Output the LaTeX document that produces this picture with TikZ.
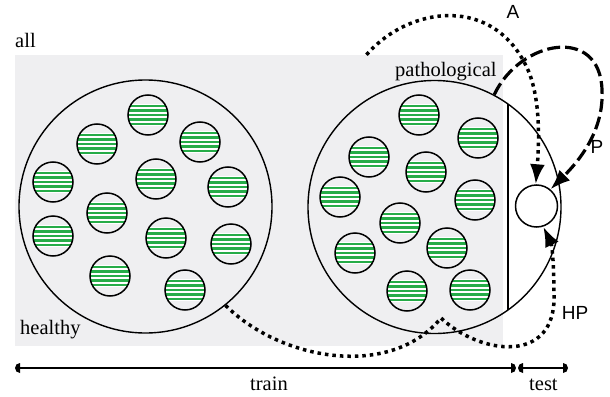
\documentclass[tikz,border=0pt]{standalone}
\usepackage{fontspec}
\setmainfont{Liberation Serif}
\newfontfamily\labfont{Liberation Sans}
\usetikzlibrary{arrows.meta,calc}
\definecolor{allgray}{RGB}{239,239,241}
\definecolor{stripegreen}{RGB}{38,172,72}
% half disk end for the split axis
\pgfdeclarearrow{
  name=HalfDisk,
  parameters={\the\pgfarrowlength,\the\pgfarrowwidth},
  setup code={
    \pgfarrowssettipend{\pgfarrowlength}
    \pgfarrowssetlineend{0pt}
    \pgfarrowssetbackend{0pt}
    \pgfarrowssetvisualbackend{0pt}
    \pgfarrowshullpoint{\pgfarrowlength}{0pt}
    \pgfarrowsupperhullpoint{0pt}{.5\pgfarrowwidth}
  },
  drawing code={
    \pgfpathmoveto{\pgfqpoint{0pt}{-.5\pgfarrowwidth}}
    \pgfpatharc{-90}{90}{\pgfarrowlength and .5\pgfarrowwidth}
    \pgfpathclose
    \pgfusepathqfill
  },
  defaults={length=5pt,width=10pt}
}
\begin{document}
\begin{tikzpicture}[x=1pt,y=-1pt,>=Latex,
  every node/.style={inner sep=0pt},
  settext/.style={anchor=base west,font=\fontsize{20.5}{24}\selectfont},
  lab/.style={font=\labfont\fontsize{19}{22}\selectfont},
  set/.style={draw,circle,line width=1.4pt,minimum size=253pt},
  sample/.style={draw,circle,line width=1.5pt,minimum size=40pt,
    path picture={\fill[white] ($(path picture bounding box.center)+(-22,-11)$) rectangle ($(path picture bounding box.center)+(22,11)$);
      \foreach \off in {-9,-4.5,0,4.5,9} \draw[stripegreen,line width=2.5pt] ($(path picture bounding box.center)+(-22,\off)$) -- ++(44,0);}},
  dotline/.style={line width=3.5pt,dash pattern=on 3.5pt off 4pt},
  dashline/.style={line width=3.2pt,dash pattern=on 13pt off 5pt},
  tip/.style={-{Latex[length=20pt,width=15pt]}},
  axis/.style={line width=2pt,{HalfDisk}-{HalfDisk}}]
\useasboundingbox (0,0) rectangle (610,396);
\node[fill=allgray,minimum width=488pt,minimum height=291pt] (all) at (259,200.5) {};
\node[settext] (alltext) at (15,48) {all};
\node[settext] (healthytext) at (20,334) {healthy};
\node[settext] (pathtext) at (395,76) {pathological};
% healthy and pathological sets
\node[set] (hset) at (145.5,206.5) {};
\node[set] (pset) at (434.5,207) {};
\draw[line width=2pt] (508,104) -- (508,310);
\foreach \px/\py [count=\i] in {148/115,97/144,200/142,53/182,156/179,228/187,107/213,53/236,166/238,231/244,110/276,185/290}
  \node[sample] (h\i) at (\px,\py) {};
\foreach \px/\py [count=\i] in {419/115,478/138,369/157,426/172,340/197,475/200,400/223,355/253,447/248,407/291,470/290}
  \node[sample] (p\i) at (\px,\py) {};
\node[draw,circle,line width=1.5pt,minimum size=42pt,fill=white] (tset) at (536.5,206) {};
% sampling paths
\coordinate (hpjoin) at (441,318);
\draw[dotline,tip] ($(all.north west)!0.72!(all.north east)$) .. controls (410,5) and (495,-5) .. (528,70) .. controls (541,100) and (539,145) .. (tset.92);
\draw[dashline,tip] (pset.62) .. controls (520,40) and (600,25) .. (602,90) .. controls (604,130) and (580,160) .. (tset.50);
\draw[dotline,tip] (hset.-51) .. controls (280,360) and (390,380) .. (hpjoin) .. controls (480,355) and (556,365) .. (554,295) .. controls (554,265) and (552,245) .. (tset.-72);
\node[lab] (alab) at (513,12) {A};
\node[lab] (plab) at (597,147) {P};
\node[lab] (hplab) at (575,313) {HP};
% train / test split
\coordinate (trainL) at (15,368);
\coordinate (trainR) at (516,368);
\coordinate (testL) at (518,368);
\coordinate (testR) at (568,368);
\draw[axis] (trainL) -- (trainR);
\draw[axis] (testL) -- (testR);
\node[settext] (traintext) at (250,390) {train};
\node[settext] (testtext) at (529,390) {test};
\end{tikzpicture}
\end{document}
